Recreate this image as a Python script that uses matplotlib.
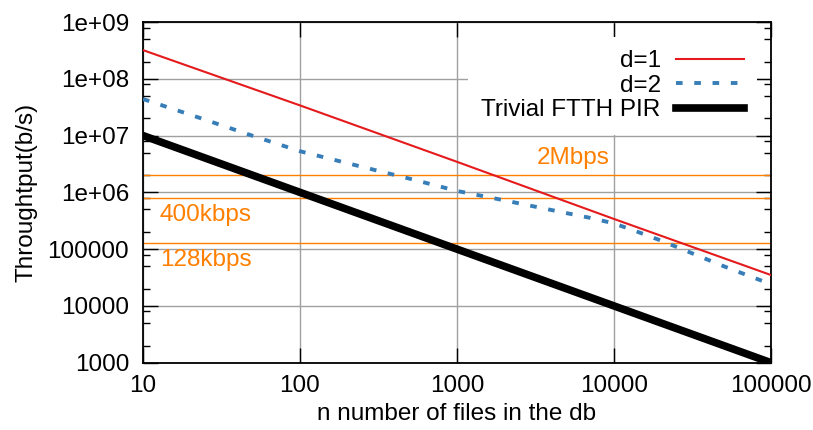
import matplotlib
matplotlib.use("Agg")
import matplotlib.pyplot as plt

# data
n_d1 = [10, 100, 1000, 10000, 100000]
thr_d1 = [3.2e8, 3.4e7, 3.45e6, 3.4e5, 3.5e4]

n_d2 = [10, 20, 50, 100, 200, 500, 1000, 2000, 5000, 7000, 10000, 14000, 20000, 50000, 100000]
thr_d2 = [4.4e7, 2.33e7, 9.9e6, 5.3e6, 3.27e6, 1.74e6, 1.06e6, 7.24e5, 4.3e5, 3.57e5,
          2.84e5, 2.04e5, 1.41e5, 5.0e4, 2.41e4]

n_triv = [10, 100, 1000, 10000, 100000]
thr_triv = [1e7, 1e6, 1e5, 1e4, 1e3]

rates = [2e6, 8e5, 1.28e5]
rate_labels = ["2Mbps", "400kbps", "128kbps"]
rate_label_x = [3240, 12.8, 12.8]
rate_label_y = [4.0e6, 3.97e5, 6.4e4]

xticks = [10, 100, 1000, 10000, 100000]
xtick_labels = ["10", "100", "1000", "10000", "100000"]
yticks = [1e9, 1e8, 1e7, 1e6, 1e5, 1e4, 1e3]
ytick_labels = ["1e+09", "1e+08", "1e+07", "1e+06", "100000", "10000", "1000"]

plt.rcParams["font.family"] = ["Liberation Sans", "DejaVu Sans"]
plt.rcParams["font.size"] = 17.5

fig = plt.figure(figsize=(8.13, 4.30), dpi=100)
ax = fig.add_axes([0.1759, 0.1565, 0.7724, 0.7923])
ax.set_xscale("log")
ax.set_yscale("log")
ax.set_xlim(10, 100000)
ax.set_ylim(1000, 1e9)

orange = "#ff8000"
for r in rates:
    ax.axhline(r, color=orange, lw=1.0, zorder=2)
for lab, lx, ly in zip(rate_labels, rate_label_x, rate_label_y):
    ax.text(lx, ly, lab, color=orange, ha="left", va="center")

ax.plot(n_d1, thr_d1, color="#e41a1c", lw=1.5, label="d=1", zorder=3)
ax.plot(n_d2, thr_d2, color="#377eb8", lw=2.8, dashes=(1.7, 3.0), label="d=2", zorder=3)
ax.plot(n_triv, thr_triv, color="black", lw=5.5, label="Trivial FTTH PIR", zorder=3)

# ticks, gnuplot style
ax.set_xticks(xticks)
ax.set_xticklabels(xtick_labels)
ax.set_yticks(yticks)
ax.set_yticklabels(ytick_labels)
ax.xaxis.set_minor_locator(matplotlib.ticker.NullLocator())
minor_y = [m * 10.0 ** e for e in range(3, 9) for m in (2, 5, 8)]
ax.yaxis.set_minor_locator(matplotlib.ticker.FixedLocator(minor_y))
ax.yaxis.set_minor_formatter(matplotlib.ticker.NullFormatter())
ax.tick_params(which="major", direction="in", length=10.8, width=1.0,
               top=True, right=True, pad=10)
ax.tick_params(which="minor", direction="in", length=5.2, width=1.0,
               top=True, right=True)
ax.tick_params(axis="x", pad=9)

ax.grid(True, which="major", color="#a0a0a0", lw=1.0, zorder=1)
ax.set_axisbelow(True)
for s in ax.spines.values():
    s.set_linewidth(1.3)

ax.set_xlabel("n number of files in the db")
ax.set_ylabel("Throughtput(b/s)")
ax.xaxis.set_label_coords(0.5, -0.118)
ax.yaxis.set_label_coords(-0.168, 0.5)

leg = ax.legend(loc="upper right", bbox_to_anchor=(0.978, 0.956), borderaxespad=0,
                markerfirst=False, handlelength=2.8, handletextpad=0.62,
                labelspacing=0.1, borderpad=0.55, fancybox=False,
                framealpha=1, facecolor="white", edgecolor="none")
for t in leg.get_texts():
    t.set_ha("right")

plt.savefig("out.png", dpi=100)
